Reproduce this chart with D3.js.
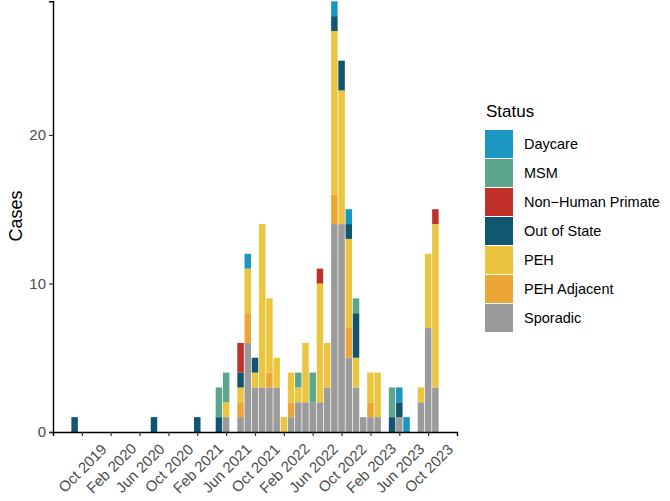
<!DOCTYPE html>
<html>
<head>
<meta charset="utf-8">
<script src="https://cdn.jsdelivr.net/npm/d3@7"></script>
<style>
  body { margin: 0; background: #fff; }
  text { font-family: "Liberation Sans", Arial, sans-serif; }
</style>
</head>
<body>
<div id="chart"></div>
<script>
// months with at least one case
var months = ['2019-09', '2020-08', '2021-02', '2021-05', '2021-06', '2021-08', '2021-09',
    '2021-10', '2021-11', '2021-12', '2022-01', '2022-02', '2022-03', '2022-04', '2022-05',
    '2022-06', '2022-07', '2022-08', '2022-09', '2022-10', '2022-11', '2022-12', '2023-01',
    '2023-02', '2023-03', '2023-05', '2023-06', '2023-07', '2023-09', '2023-10', '2023-11'];

var daycare     = [0,0,0,0,0,0,1, 0,0,0,0,0,0,0,0, 0,0,0,1,0,1,0,0, 0,0,0,1,1,0,0,0];
var msm         = [0,0,0,2,2,0,0, 0,0,0,0,0,0,1,0, 2,0,0,0,0,0,1,0, 0,0,2,0,0,0,0,0];
var nonHuman    = [0,0,0,0,0,2,0, 0,0,0,0,0,0,0,0, 0,1,0,0,0,0,0,0, 0,0,0,0,0,0,0,1];
var outOfState  = [1,1,1,1,0,1,0, 1,0,0,0,0,0,0,0, 0,0,0,1,2,1,3,0, 0,0,1,1,0,0,0,0];
var peh         = [0,0,0,0,1,1,3, 1,11,5,2,1,2,1,4, 0,8,3,11,9,6,2,0, 2,3,0,0,0,1,5,11];
var pehAdjacent = [0,0,0,0,0,1,2, 0,0,1,0,0,1,0,0, 0,0,0,2,0,2,0,0, 1,0,0,0,0,0,0,0];
var sporadic    = [0,0,0,0,1,1,6, 3,3,3,3,0,1,2,2, 2,2,3,14,14,5,3,1, 1,1,0,1,0,2,7,3];

var statuses = ['Daycare', 'MSM', 'Non\u2212Human Primate', 'Out of State', 'PEH', 'PEH Adjacent', 'Sporadic'];
var colors = ['#1B96C0', '#5BA68D', '#C0302A', '#11566F', '#EBC53F', '#ECA636', '#9B9B9B'];
var series = [daycare, msm, nonHuman, outOfState, peh, pehAdjacent, sporadic];

var tickLabels = ['Oct 2019', 'Feb 2020', 'Jun 2020', 'Oct 2020', 'Feb 2021', 'Jun 2021', 'Oct 2021',
    'Feb 2022', 'Jun 2022', 'Oct 2022', 'Feb 2023', 'Jun 2023', 'Oct 2023'];
var yTicks = [0, 10, 20];

var chart_width = 670;
var chart_height = 501;

var parseMonth = d3.timeParse('%Y-%m');
var parseLabel = d3.timeParse('%b %Y');
var start = parseMonth(months[0]);
function monthIndex(date) {
    return d3.timeMonth.count(start, date);
}

// rows for stacking
var table = months.map(function (m, i) {
    var row = { idx: monthIndex(parseMonth(m)) };
    statuses.forEach(function (s, j) { row[s] = series[j][i]; });
    return row;
});

// ggplot stacks the last level at the bottom
var stack = d3.stack().keys(statuses.slice().reverse());
var layers = stack(table);

var svg = d3.select('#chart')
    .append('svg')
    .attr('width', chart_width)
    .attr('height', chart_height);

// Escalas
var minIdx = d3.min(table, function (d) { return d.idx; }) - 0.45;
var maxIdx = d3.max(table, function (d) { return d.idx; }) + 0.45;
var pad = (maxIdx - minIdx) * 0.05;
var x_scale = d3.scaleLinear()
    .domain([minIdx - pad, maxIdx + pad])
    .range([53, 457]);

var y_scale = d3.scaleLinear()
    .domain([0, d3.max(table, function (d) {
        return d3.sum(statuses, function (s) { return d[s]; });
    })])
    .range([432, 1.3]);

var barW = x_scale(0.9) - x_scale(0);

// Barras
svg.selectAll('g.layer')
    .data(layers)
    .enter()
    .append('g')
    .attr('class', 'layer')
    .attr('fill', function (d) { return colors[statuses.indexOf(d.key)]; })
    .selectAll('rect')
    .data(function (d) { return d.filter(function (p) { return p[1] > p[0]; }); })
    .enter()
    .append('rect')
    .attr('x', function (d) { return x_scale(d.data.idx) - barW / 2; })
    .attr('width', barW)
    .attr('y', function (d) { return y_scale(d[1]); })
    .attr('height', function (d) { return y_scale(d[0]) - y_scale(d[1]); });

// Eixos
var tickIdx = tickLabels.map(function (t) { return monthIndex(parseLabel(t)); });

var xAxis = d3.axisBottom(x_scale)
    .tickValues(tickIdx)
    .tickSize(4)
    .tickFormat(function (d, i) { return tickLabels[i]; });

var gx = svg.append('g')
    .attr('transform', 'translate(0,432)')
    .call(xAxis);
gx.select('.domain').attr('stroke', '#000').attr('stroke-width', 1.4);
gx.selectAll('.tick line').attr('stroke', '#333').attr('stroke-width', 1.2);
gx.selectAll('.tick text')
    .attr('fill', '#4d4d4d')
    .style('font-size', '15px')
    .attr('text-anchor', 'middle')
    .attr('dy', null)
    .attr('y', null)
    .attr('dominant-baseline', 'central')
    .attr('transform', 'translate(0,36) rotate(-45)');

var yAxis = d3.axisLeft(y_scale)
    .tickValues(yTicks)
    .tickSize(4)
    .tickPadding(3);

var gy = svg.append('g')
    .attr('transform', 'translate(53,0)')
    .call(yAxis);
gy.select('.domain').attr('stroke', '#000').attr('stroke-width', 1.4);
gy.selectAll('.tick line').attr('stroke', '#333').attr('stroke-width', 1.2);
gy.selectAll('.tick text')
    .attr('fill', '#4d4d4d')
    .style('font-size', '15px');

svg.append('text')
    .attr('transform', 'translate(22,216) rotate(-90)')
    .attr('text-anchor', 'middle')
    .style('font-size', '18px')
    .attr('fill', '#000')
    .text('Cases');

// Legenda
var legend = svg.append('g').attr('transform', 'translate(485,0)');
legend.append('text')
    .attr('x', 1)
    .attr('y', 117)
    .style('font-size', '17px')
    .attr('fill', '#000')
    .text('Status');

var items = legend.selectAll('g.item')
    .data(statuses)
    .enter()
    .append('g')
    .attr('class', 'item')
    .attr('transform', function (d, i) { return 'translate(0,' + (130 + i * 29) + ')'; });

items.append('rect')
    .attr('width', 28)
    .attr('height', 28)
    .attr('fill', function (d, i) { return colors[i]; });

items.append('text')
    .attr('x', 39)
    .attr('y', 14)
    .attr('dominant-baseline', 'central')
    .style('font-size', '14.5px')
    .attr('fill', '#000')
    .text(function (d) { return d; });
</script>
</body>
</html>
